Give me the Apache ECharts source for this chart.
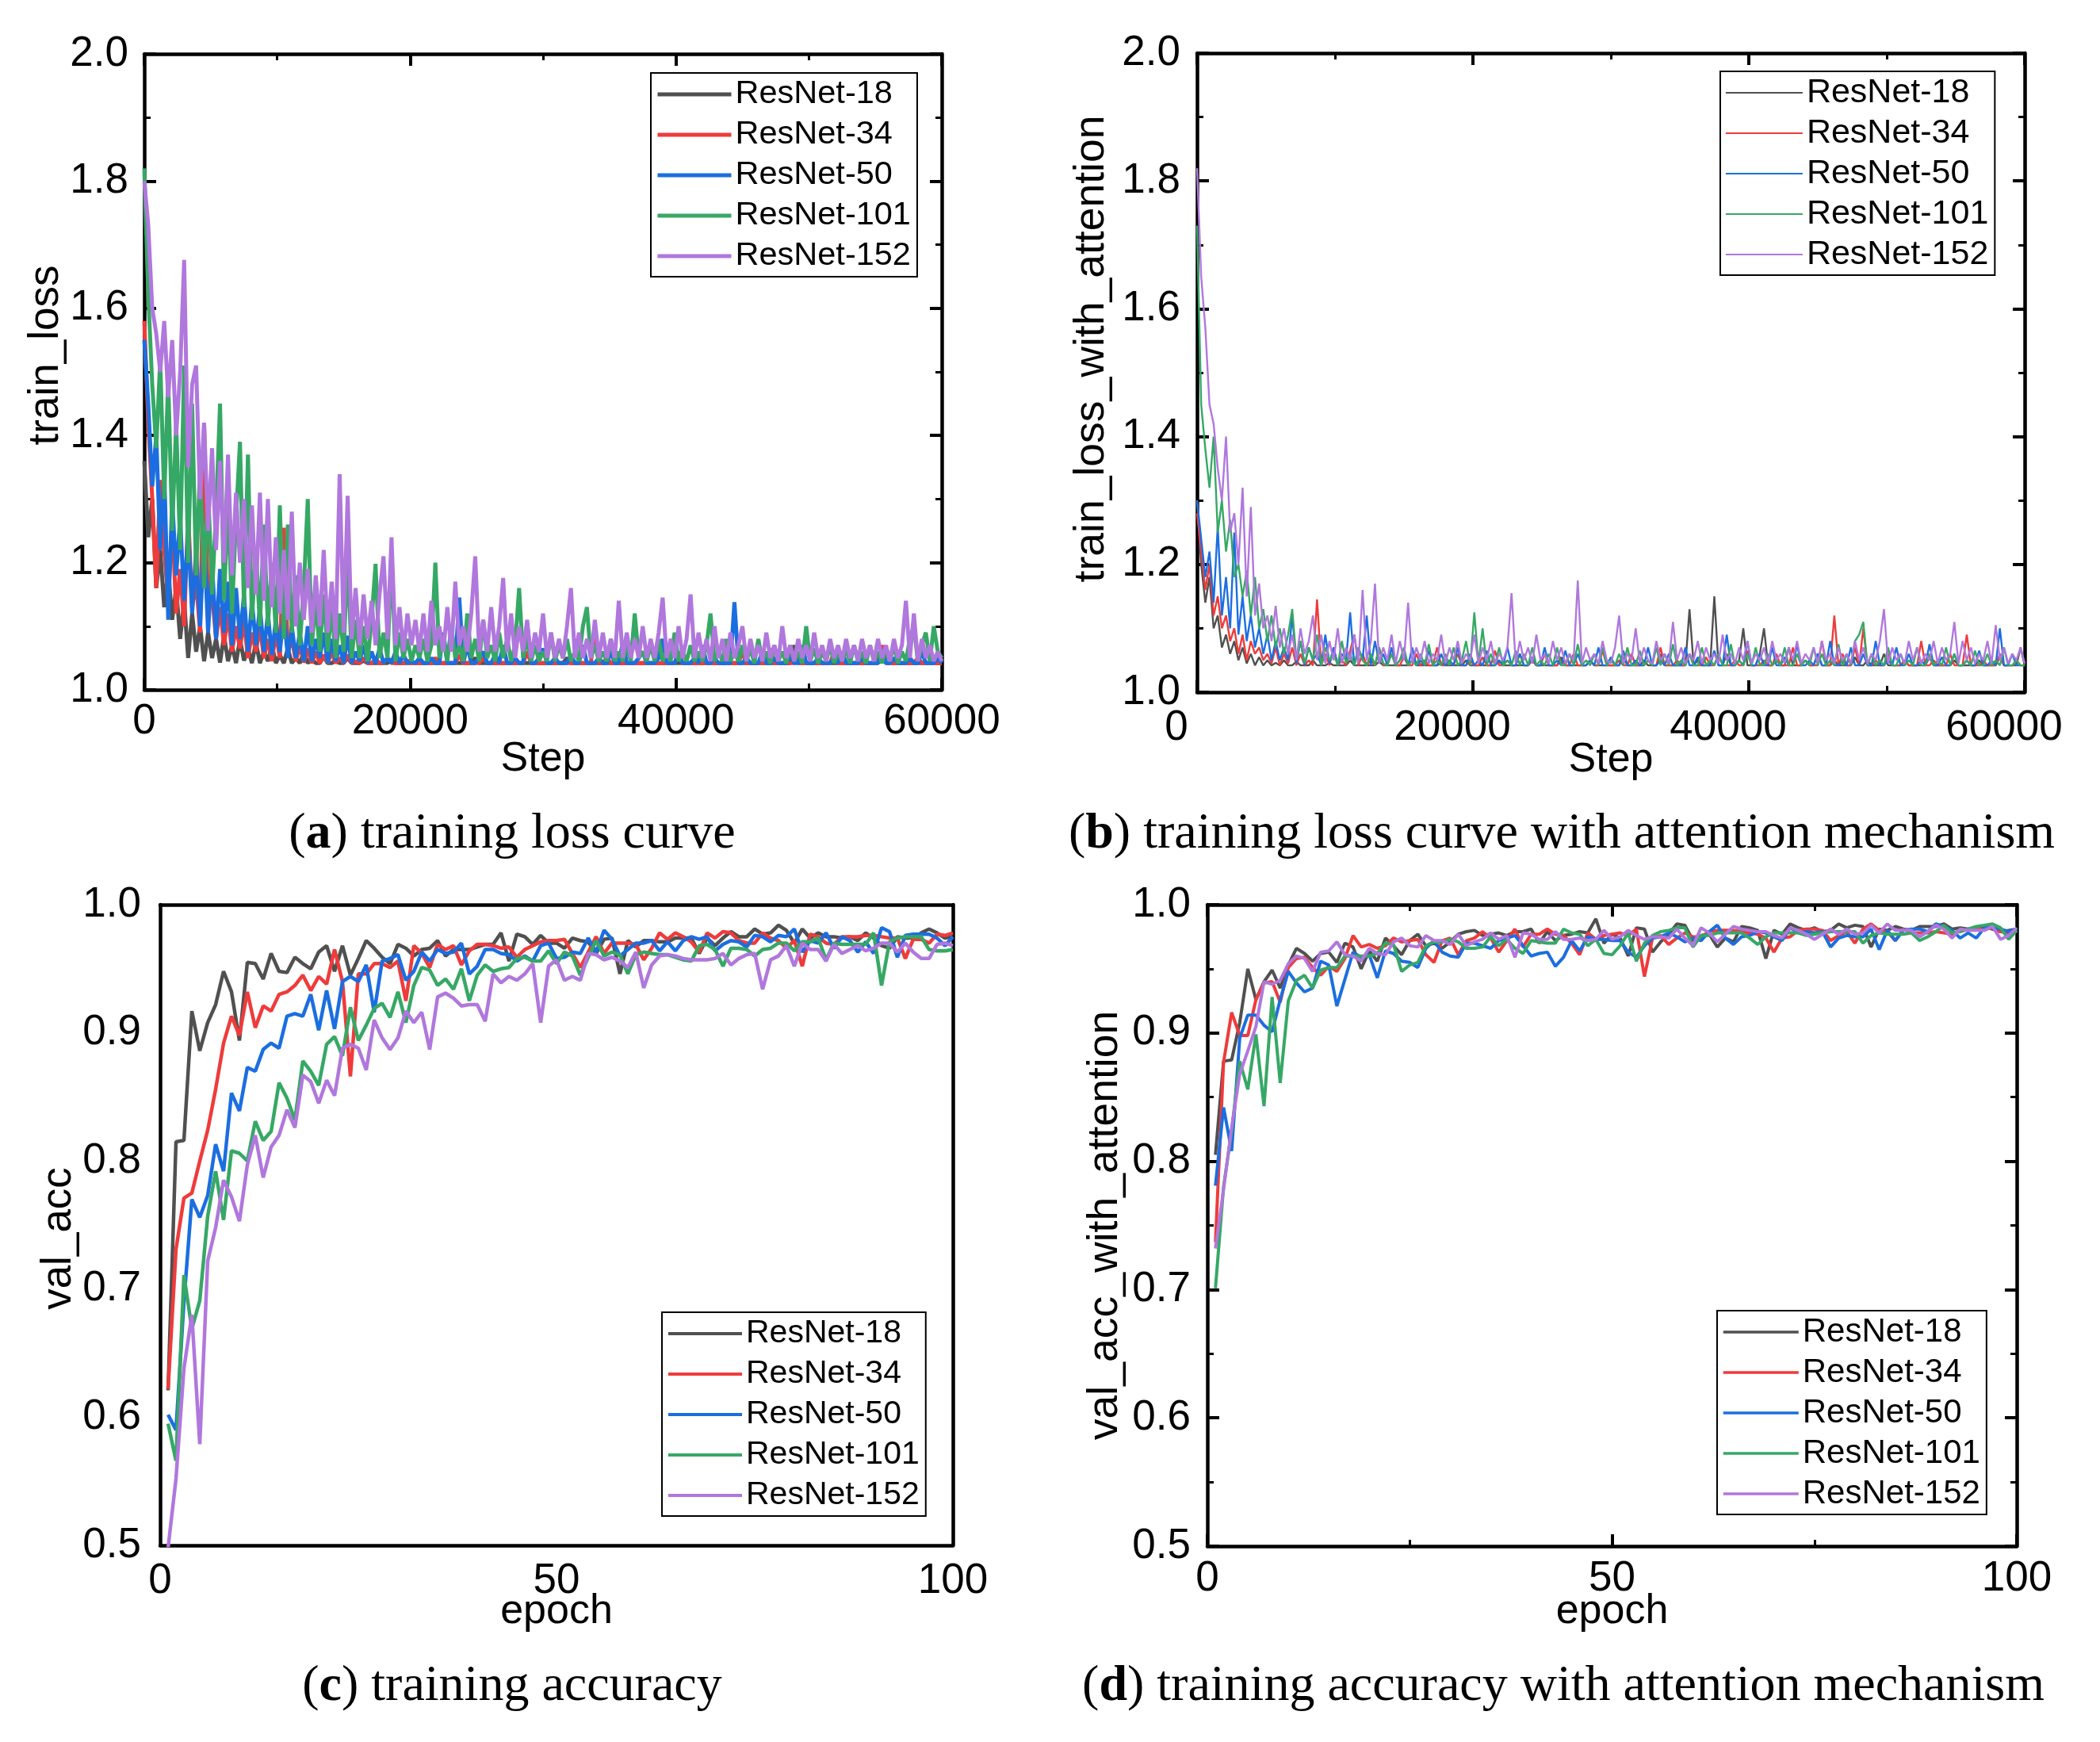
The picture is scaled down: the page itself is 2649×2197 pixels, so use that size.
<!DOCTYPE html>
<html><head><meta charset="utf-8">
<script src="https://cdn.jsdelivr.net/npm/echarts@6.0.0/dist/echarts.min.js"></script>
<style>html,body{margin:0;padding:0;background:#fff}#c{width:2649px;height:2197px}</style>
</head><body><div id="c"></div><script>
const seriesNames = ['ResNet-18','ResNet-34','ResNet-50','ResNet-101','ResNet-152'];
const seriesColors = ['#505050','#ef3b3b','#1b6ee0','#36a865','#b077dd'];
const lossStepInterval = 300;
const lossXTicks = ['0','20000','40000','60000'];
const lossYTicks = ['1.0','1.2','1.4','1.6','1.8','2.0'];
const accXTicks = ['0','50','100'];
const accYTicks = ['0.5','0.6','0.7','0.8','0.9','1.0'];
const captions = ['training loss curve','training loss curve with attention mechanism','training accuracy','training accuracy with attention mechanism'];

// (a) train_loss
const lossA18 = [1.36,1.24,1.30,1.16,1.22,1.13,1.19,1.11,1.16,1.08,
1.14,1.05,1.12,1.06,1.10,1.045,1.09,1.05,1.08,1.043,
1.085,1.045,1.07,1.042,1.08,1.046,1.065,1.042,1.075,1.042,
1.06,1.045,1.07,1.042,1.055,1.042,1.065,1.042,1.05,1.042,
1.06,1.042,1.048,1.042,1.042,1.052,1.042,1.042,1.046,1.042,
1.042,1.05,1.042,1.042,1.042,1.046,1.042,1.042,1.042,1.042,
1.042,1.042,1.048,1.042,1.042,1.042,1.042,1.042,1.042,1.042,
1.042,1.042,1.042,1.042,1.042,1.042,1.042,1.042,1.042,1.042,
1.042,1.042,1.042,1.05,1.042,1.042,1.042,1.042,1.042,1.042,
1.042,1.042,1.042,1.042,1.042,1.042,1.042,1.042,1.042,1.042,
1.042,1.042,1.042,1.042,1.042,1.042,1.05,1.042,1.042,1.042,
1.042,1.042,1.042,1.042,1.042,1.042,1.042,1.042,1.042,1.042,
1.042,1.042,1.042,1.042,1.042,1.042,1.042,1.042,1.042,1.042,
1.042,1.042,1.042,1.042,1.042,1.042,1.042,1.042,1.042,1.042,
1.042,1.042,1.042,1.042,1.042,1.042,1.042,1.042,1.042,1.042,
1.042,1.042,1.042,1.042,1.042,1.042,1.042,1.042,1.042,1.042,
1.042,1.042,1.042,1.07,1.042,1.042,1.042,1.042,1.042,1.042,
1.042,1.042,1.042,1.042,1.042,1.042,1.042,1.042,1.042,1.042,
1.042,1.042,1.042,1.042,1.042,1.055,1.042,1.042,1.042,1.042,
1.042,1.042,1.042,1.042,1.042,1.042,1.042,1.042,1.042,1.042,
1.042];
const lossA34 = [1.58,1.42,1.30,1.16,1.33,1.22,1.14,1.27,1.12,1.19,
1.10,1.28,1.13,1.17,1.09,1.42,1.12,1.15,1.08,1.13,
1.07,1.12,1.06,1.10,1.065,1.11,1.05,1.09,1.06,1.10,
1.05,1.08,1.045,1.09,1.05,1.255,1.06,1.08,1.045,1.07,
1.043,1.065,1.042,1.06,1.042,1.055,1.042,1.06,1.042,1.05,
1.042,1.055,1.042,1.045,1.042,1.05,1.042,1.042,1.048,1.042,
1.042,1.05,1.042,1.042,1.042,1.042,1.046,1.042,1.042,1.042,
1.042,1.042,1.042,1.05,1.042,1.042,1.042,1.042,1.042,1.055,
1.042,1.042,1.042,1.042,1.042,1.05,1.042,1.042,1.042,1.042,
1.042,1.042,1.042,1.042,1.042,1.042,1.06,1.042,1.042,1.042,
1.042,1.042,1.042,1.042,1.042,1.042,1.042,1.042,1.042,1.042,
1.042,1.042,1.042,1.10,1.042,1.042,1.05,1.042,1.042,1.042,
1.042,1.042,1.042,1.042,1.042,1.042,1.042,1.042,1.042,1.042,
1.042,1.042,1.042,1.042,1.06,1.042,1.042,1.042,1.042,1.042,
1.042,1.042,1.042,1.042,1.042,1.042,1.042,1.042,1.042,1.042,
1.06,1.042,1.042,1.042,1.042,1.042,1.042,1.065,1.042,1.042,
1.042,1.042,1.042,1.042,1.05,1.042,1.042,1.042,1.042,1.042,
1.042,1.042,1.042,1.06,1.042,1.042,1.042,1.042,1.042,1.042,
1.042,1.042,1.042,1.042,1.042,1.07,1.042,1.042,1.042,1.042,
1.042,1.042,1.042,1.042,1.05,1.042,1.042,1.042,1.042,1.042,
1.042];
const lossA50 = [1.55,1.45,1.32,1.40,1.22,1.35,1.11,1.30,1.18,1.27,
1.14,1.25,1.12,1.22,1.10,1.24,1.09,1.20,1.08,1.19,
1.09,1.17,1.07,1.16,1.08,1.15,1.06,1.14,1.07,1.13,
1.06,1.12,1.055,1.11,1.06,1.12,1.05,1.10,1.05,1.09,
1.045,1.10,1.045,1.08,1.05,1.09,1.042,1.08,1.045,1.07,
1.042,1.085,1.042,1.06,1.045,1.07,1.042,1.06,1.042,1.065,
1.042,1.05,1.042,1.06,1.042,1.055,1.042,1.045,1.042,1.05,
1.042,1.042,1.05,1.042,1.042,1.09,1.042,1.042,1.042,1.145,
1.042,1.07,1.042,1.042,1.05,1.06,1.042,1.042,1.055,1.042,
1.07,1.042,1.042,1.05,1.042,1.042,1.105,1.042,1.042,1.05,
1.065,1.042,1.042,1.05,1.042,1.042,1.042,1.055,1.042,1.042,
1.07,1.042,1.042,1.042,1.05,1.042,1.042,1.06,1.042,1.042,
1.075,1.042,1.042,1.042,1.05,1.06,1.042,1.042,1.042,1.05,
1.08,1.042,1.042,1.042,1.055,1.042,1.042,1.042,1.05,1.042,
1.07,1.042,1.042,1.05,1.042,1.042,1.042,1.042,1.138,1.042,
1.042,1.05,1.042,1.042,1.042,1.06,1.042,1.042,1.05,1.042,
1.042,1.042,1.055,1.042,1.042,1.07,1.042,1.042,1.042,1.05,
1.042,1.042,1.042,1.05,1.042,1.06,1.042,1.042,1.042,1.042,
1.05,1.042,1.042,1.042,1.042,1.065,1.042,1.042,1.05,1.042,
1.042,1.042,1.05,1.042,1.042,1.06,1.042,1.042,1.042,1.05,
1.042];
const lossA101 = [1.82,1.62,1.48,1.38,1.52,1.30,1.49,1.25,1.42,1.22,
1.51,1.20,1.45,1.18,1.35,1.16,1.32,1.15,1.28,1.45,
1.14,1.30,1.12,1.27,1.39,1.13,1.37,1.11,1.22,1.10,
1.26,1.10,1.20,1.09,1.29,1.08,1.26,1.09,1.18,1.07,
1.16,1.30,1.07,1.14,1.06,1.15,1.06,1.13,1.05,1.12,
1.06,1.21,1.05,1.11,1.05,1.10,1.045,1.11,1.198,1.05,
1.09,1.05,1.21,1.045,1.09,1.05,1.08,1.045,1.07,1.05,
1.08,1.045,1.07,1.20,1.05,1.08,1.045,1.10,1.05,1.07,
1.045,1.12,1.05,1.08,1.045,1.11,1.05,1.07,1.045,1.09,
1.05,1.08,1.045,1.07,1.16,1.05,1.08,1.045,1.07,1.045,
1.06,1.045,1.09,1.045,1.07,1.05,1.08,1.045,1.06,1.045,
1.10,1.13,1.05,1.07,1.045,1.06,1.045,1.08,1.045,1.06,
1.045,1.07,1.045,1.12,1.05,1.06,1.045,1.07,1.045,1.08,
1.045,1.06,1.045,1.09,1.045,1.06,1.045,1.07,1.045,1.06,
1.045,1.07,1.12,1.045,1.06,1.045,1.08,1.045,1.06,1.045,
1.07,1.045,1.065,1.042,1.08,1.045,1.06,1.042,1.07,1.045,
1.06,1.042,1.07,1.045,1.06,1.042,1.10,1.045,1.065,1.042,
1.06,1.045,1.07,1.042,1.06,1.045,1.065,1.042,1.07,1.045,
1.06,1.042,1.07,1.045,1.06,1.042,1.065,1.045,1.07,1.042,
1.06,1.045,1.08,1.10,1.045,1.07,1.09,1.045,1.10,1.06,
1.05];
const lossA152 = [1.80,1.73,1.60,1.56,1.50,1.58,1.46,1.55,1.40,1.50,
1.676,1.35,1.48,1.51,1.30,1.42,1.25,1.38,1.22,1.36,
1.20,1.37,1.18,1.31,1.20,1.30,1.16,1.29,1.15,1.31,
1.14,1.30,1.13,1.24,1.12,1.22,1.11,1.28,1.10,1.20,
1.11,1.19,1.09,1.18,1.10,1.22,1.09,1.17,1.08,1.339,
1.09,1.305,1.08,1.16,1.07,1.15,1.08,1.14,1.07,1.15,
1.21,1.08,1.24,1.07,1.13,1.06,1.12,1.07,1.11,1.06,
1.12,1.06,1.14,1.07,1.10,1.06,1.13,1.06,1.17,1.07,
1.10,1.06,1.12,1.21,1.06,1.11,1.06,1.13,1.06,1.10,
1.176,1.06,1.12,1.05,1.10,1.06,1.11,1.05,1.09,1.06,
1.12,1.05,1.09,1.05,1.08,1.05,1.10,1.16,1.05,1.09,
1.05,1.08,1.05,1.11,1.05,1.09,1.05,1.08,1.05,1.14,
1.05,1.09,1.05,1.08,1.05,1.10,1.05,1.08,1.05,1.09,
1.145,1.05,1.08,1.05,1.10,1.05,1.08,1.15,1.05,1.09,
1.05,1.08,1.045,1.10,1.05,1.08,1.045,1.09,1.05,1.07,
1.10,1.045,1.08,1.05,1.07,1.045,1.09,1.05,1.07,1.045,
1.10,1.05,1.07,1.045,1.08,1.05,1.07,1.045,1.09,1.05,
1.07,1.045,1.08,1.05,1.07,1.045,1.08,1.05,1.07,1.045,
1.08,1.05,1.07,1.045,1.08,1.05,1.07,1.045,1.08,1.05,
1.07,1.14,1.05,1.12,1.045,1.08,1.05,1.07,1.045,1.06,
1.045];

// (b) train_loss_with_attention
const lossB18 = [1.30,1.20,1.14,1.18,1.10,1.12,1.07,1.09,1.06,1.08,
1.05,1.07,1.045,1.06,1.042,1.055,1.042,1.05,1.042,1.046,
1.042,1.05,1.042,1.042,1.048,1.042,1.042,1.042,1.05,1.042,
1.042,1.042,1.046,1.042,1.042,1.042,1.042,1.05,1.042,1.042,
1.042,1.042,1.042,1.042,1.048,1.042,1.042,1.042,1.042,1.042,
1.042,1.042,1.05,1.042,1.042,1.042,1.042,1.042,1.042,1.046,
1.042,1.042,1.042,1.042,1.042,1.05,1.042,1.042,1.042,1.042,
1.042,1.042,1.042,1.048,1.042,1.042,1.042,1.042,1.042,1.042,
1.042,1.05,1.042,1.042,1.042,1.042,1.042,1.042,1.055,1.042,
1.042,1.042,1.042,1.042,1.042,1.05,1.042,1.042,1.042,1.042,
1.042,1.042,1.042,1.055,1.042,1.042,1.042,1.042,1.05,1.042,
1.042,1.042,1.06,1.042,1.042,1.042,1.042,1.042,1.042,1.13,
1.042,1.05,1.042,1.042,1.042,1.15,1.042,1.042,1.06,1.042,
1.042,1.05,1.10,1.042,1.042,1.042,1.06,1.10,1.042,1.042,
1.05,1.042,1.042,1.07,1.042,1.042,1.042,1.05,1.042,1.042,
1.06,1.042,1.042,1.042,1.05,1.042,1.042,1.042,1.042,1.055,
1.042,1.042,1.05,1.042,1.042,1.042,1.06,1.042,1.042,1.042,
1.042,1.05,1.042,1.042,1.042,1.042,1.042,1.055,1.042,1.042,
1.042,1.042,1.042,1.05,1.042,1.042,1.042,1.042,1.042,1.05,
1.042,1.042,1.042,1.042,1.055,1.042,1.042,1.042,1.042,1.07,
1.042];
const lossB34 = [1.28,1.22,1.16,1.20,1.12,1.15,1.10,1.12,1.08,1.10,
1.06,1.09,1.05,1.08,1.06,1.07,1.05,1.06,1.045,1.07,
1.042,1.06,1.045,1.07,1.042,1.06,1.042,1.05,1.042,1.145,
1.042,1.06,1.042,1.07,1.042,1.05,1.042,1.065,1.09,1.042,
1.06,1.042,1.05,1.042,1.07,1.042,1.045,1.06,1.042,1.042,
1.055,1.042,1.042,1.06,1.042,1.05,1.042,1.042,1.07,1.042,
1.042,1.05,1.042,1.06,1.042,1.042,1.05,1.042,1.042,1.055,
1.042,1.042,1.065,1.042,1.042,1.05,1.042,1.042,1.06,1.042,
1.042,1.05,1.042,1.042,1.06,1.042,1.042,1.042,1.05,1.042,
1.042,1.06,1.042,1.042,1.042,1.05,1.042,1.042,1.065,1.042,
1.042,1.042,1.05,1.042,1.042,1.06,1.042,1.042,1.042,1.05,
1.042,1.042,1.07,1.042,1.042,1.042,1.05,1.042,1.042,1.06,
1.042,1.042,1.042,1.055,1.042,1.042,1.06,1.042,1.042,1.042,
1.05,1.042,1.042,1.065,1.042,1.042,1.042,1.05,1.042,1.042,
1.06,1.042,1.042,1.042,1.07,1.042,1.042,1.05,1.042,1.042,
1.042,1.08,1.042,1.042,1.12,1.042,1.06,1.042,1.042,1.07,
1.042,1.10,1.042,1.042,1.05,1.042,1.042,1.06,1.042,1.042,
1.042,1.05,1.042,1.042,1.042,1.08,1.042,1.042,1.05,1.042,
1.042,1.042,1.06,1.042,1.042,1.042,1.09,1.042,1.042,1.042,
1.05,1.042,1.042,1.042,1.06,1.042,1.042,1.042,1.05,1.042,
1.042];
const lossB50 = [1.30,1.24,1.18,1.22,1.14,1.26,1.12,1.18,1.10,1.25,
1.09,1.15,1.08,1.12,1.07,1.10,1.06,1.09,1.05,1.08,
1.05,1.07,1.05,1.12,1.045,1.08,1.042,1.07,1.05,1.06,
1.042,1.09,1.045,1.07,1.042,1.06,1.05,1.125,1.042,1.07,
1.05,1.12,1.042,1.08,1.045,1.06,1.042,1.07,1.042,1.05,
1.06,1.042,1.07,1.042,1.05,1.042,1.065,1.042,1.042,1.06,
1.042,1.05,1.042,1.07,1.042,1.042,1.06,1.042,1.05,1.042,
1.065,1.042,1.042,1.05,1.042,1.07,1.042,1.042,1.06,1.042,
1.042,1.055,1.042,1.042,1.07,1.042,1.042,1.05,1.042,1.065,
1.042,1.042,1.06,1.042,1.042,1.05,1.042,1.07,1.042,1.042,
1.055,1.042,1.042,1.065,1.042,1.042,1.05,1.042,1.042,1.07,
1.042,1.042,1.05,1.042,1.06,1.042,1.042,1.042,1.07,1.042,
1.042,1.055,1.042,1.042,1.042,1.065,1.042,1.042,1.09,1.042,
1.042,1.05,1.042,1.08,1.042,1.042,1.06,1.042,1.042,1.07,
1.042,1.042,1.055,1.042,1.042,1.075,1.042,1.042,1.05,1.042,
1.06,1.042,1.042,1.08,1.042,1.042,1.05,1.042,1.07,1.042,
1.042,1.06,1.042,1.042,1.08,1.042,1.042,1.05,1.042,1.07,
1.042,1.042,1.06,1.042,1.042,1.05,1.042,1.075,1.042,1.042,
1.055,1.042,1.042,1.06,1.042,1.042,1.05,1.042,1.042,1.065,
1.042,1.042,1.05,1.042,1.10,1.042,1.042,1.06,1.042,1.042,
1.042];
const lossB101 = [1.73,1.45,1.38,1.32,1.40,1.25,1.30,1.22,1.27,1.18,
1.20,1.15,1.19,1.12,1.18,1.10,1.13,1.08,1.12,1.07,
1.10,1.06,1.09,1.13,1.05,1.08,1.045,1.07,1.05,1.09,
1.042,1.07,1.05,1.06,1.042,1.08,1.045,1.06,1.042,1.07,
1.05,1.042,1.06,1.042,1.07,1.045,1.042,1.06,1.042,1.05,
1.07,1.042,1.05,1.042,1.06,1.042,1.075,1.042,1.05,1.042,
1.06,1.042,1.07,1.042,1.05,1.08,1.042,1.125,1.045,1.10,
1.042,1.06,1.042,1.07,1.042,1.05,1.042,1.065,1.042,1.06,
1.042,1.07,1.042,1.05,1.042,1.06,1.042,1.07,1.042,1.042,
1.06,1.042,1.075,1.042,1.05,1.042,1.06,1.042,1.07,1.042,
1.05,1.042,1.06,1.042,1.07,1.042,1.042,1.065,1.042,1.05,
1.042,1.07,1.042,1.06,1.042,1.075,1.042,1.05,1.042,1.06,
1.042,1.042,1.07,1.042,1.05,1.042,1.06,1.042,1.042,1.075,
1.042,1.05,1.042,1.06,1.042,1.07,1.042,1.042,1.06,1.042,
1.05,1.042,1.07,1.042,1.042,1.06,1.042,1.05,1.042,1.07,
1.042,1.06,1.042,1.05,1.042,1.075,1.042,1.06,1.042,1.08,
1.09,1.11,1.042,1.06,1.042,1.05,1.042,1.07,1.042,1.042,
1.06,1.042,1.05,1.042,1.07,1.042,1.042,1.06,1.042,1.05,
1.042,1.07,1.042,1.06,1.042,1.042,1.05,1.042,1.065,1.042,
1.042,1.06,1.042,1.05,1.042,1.07,1.042,1.042,1.05,1.042,
1.042];
const lossB152 = [1.82,1.65,1.57,1.45,1.42,1.35,1.30,1.40,1.25,1.28,
1.20,1.32,1.15,1.29,1.12,1.17,1.10,1.12,1.08,1.135,
1.07,1.10,1.06,1.09,1.05,1.10,1.06,1.08,1.12,1.05,
1.09,1.045,1.08,1.05,1.10,1.045,1.07,1.05,1.09,1.045,
1.16,1.05,1.08,1.17,1.045,1.07,1.05,1.09,1.045,1.08,
1.05,1.14,1.045,1.07,1.05,1.08,1.045,1.06,1.05,1.09,
1.045,1.07,1.05,1.08,1.045,1.06,1.05,1.09,1.045,1.07,
1.05,1.08,1.045,1.06,1.05,1.07,1.155,1.045,1.08,1.05,
1.07,1.045,1.09,1.05,1.06,1.045,1.08,1.05,1.07,1.045,
1.06,1.05,1.175,1.045,1.07,1.05,1.06,1.045,1.08,1.05,
1.045,1.07,1.12,1.045,1.06,1.05,1.10,1.045,1.07,1.05,
1.045,1.08,1.05,1.06,1.045,1.11,1.05,1.07,1.045,1.06,
1.05,1.08,1.045,1.07,1.05,1.06,1.045,1.09,1.05,1.06,
1.045,1.07,1.05,1.08,1.045,1.06,1.05,1.07,1.045,1.08,
1.05,1.06,1.045,1.07,1.05,1.08,1.045,1.06,1.05,1.07,
1.045,1.08,1.05,1.06,1.045,1.07,1.05,1.06,1.045,1.08,
1.05,1.07,1.045,1.06,1.05,1.08,1.13,1.045,1.07,1.05,
1.06,1.045,1.08,1.05,1.07,1.045,1.06,1.05,1.08,1.045,
1.07,1.05,1.06,1.11,1.045,1.08,1.05,1.07,1.045,1.06,
1.05,1.08,1.045,1.105,1.05,1.07,1.045,1.06,1.05,1.07,
1.045];

// (c) val_acc, epochs 1..100
const accC18 = [0.621,0.815,0.816,0.917,0.886,0.908,0.922,0.948,0.932,0.894,
0.955,0.954,0.942,0.962,0.948,0.947,0.959,0.954,0.950,0.963,
0.968,0.948,0.968,0.945,0.958,0.972,0.966,0.959,0.954,0.969,
0.966,0.960,0.965,0.966,0.972,0.960,0.965,0.965,0.965,0.967,
0.969,0.969,0.978,0.956,0.977,0.975,0.969,0.976,0.970,0.970,
0.966,0.974,0.972,0.971,0.962,0.973,0.974,0.946,0.972,0.967,
0.972,0.972,0.971,0.971,0.974,0.974,0.974,0.962,0.974,0.968,
0.974,0.979,0.975,0.975,0.981,0.977,0.978,0.984,0.980,0.970,
0.981,0.974,0.978,0.975,0.975,0.974,0.975,0.972,0.978,0.974,
0.968,0.966,0.975,0.974,0.974,0.978,0.981,0.978,0.974,0.975];
const accC34 = [0.622,0.731,0.771,0.775,0.800,0.824,0.856,0.892,0.913,0.898,
0.932,0.904,0.921,0.917,0.930,0.932,0.937,0.945,0.933,0.944,
0.938,0.965,0.940,0.866,0.946,0.946,0.954,0.954,0.951,0.956,
0.925,0.968,0.962,0.951,0.969,0.965,0.968,0.953,0.964,0.969,
0.969,0.968,0.966,0.967,0.959,0.965,0.968,0.971,0.972,0.972,
0.973,0.962,0.951,0.963,0.975,0.962,0.970,0.970,0.970,0.969,
0.957,0.966,0.978,0.973,0.978,0.975,0.971,0.963,0.978,0.974,
0.979,0.978,0.972,0.970,0.970,0.978,0.974,0.972,0.966,0.972,
0.952,0.977,0.975,0.970,0.969,0.975,0.975,0.975,0.976,0.976,
0.975,0.974,0.974,0.958,0.973,0.973,0.970,0.977,0.976,0.978];
const accC50 = [0.602,0.590,0.690,0.770,0.756,0.773,0.813,0.792,0.853,0.839,
0.873,0.870,0.887,0.892,0.888,0.913,0.915,0.913,0.930,0.902,
0.933,0.903,0.940,0.944,0.940,0.953,0.916,0.956,0.958,0.961,
0.941,0.948,0.963,0.956,0.965,0.962,0.963,0.970,0.946,0.952,
0.965,0.965,0.962,0.961,0.956,0.960,0.956,0.968,0.970,0.958,
0.959,0.963,0.962,0.974,0.963,0.980,0.973,0.960,0.965,0.970,
0.970,0.972,0.964,0.971,0.964,0.972,0.975,0.973,0.975,0.964,
0.969,0.972,0.971,0.967,0.976,0.975,0.971,0.976,0.975,0.981,
0.963,0.972,0.970,0.978,0.966,0.975,0.972,0.963,0.971,0.962,
0.982,0.979,0.959,0.976,0.977,0.977,0.977,0.974,0.968,0.975];
const accC101 = [0.595,0.566,0.711,0.669,0.691,0.757,0.792,0.754,0.808,0.806,
0.800,0.831,0.816,0.823,0.861,0.849,0.832,0.878,0.870,0.859,
0.891,0.897,0.882,0.920,0.894,0.906,0.919,0.923,0.912,0.932,
0.908,0.937,0.951,0.949,0.937,0.942,0.934,0.950,0.925,0.945,
0.953,0.948,0.950,0.951,0.958,0.959,0.956,0.956,0.964,0.954,
0.963,0.960,0.945,0.959,0.972,0.960,0.963,0.961,0.946,0.961,
0.963,0.962,0.961,0.961,0.959,0.957,0.956,0.968,0.969,0.965,
0.952,0.966,0.966,0.965,0.960,0.965,0.966,0.970,0.970,0.964,
0.971,0.971,0.974,0.957,0.970,0.969,0.969,0.969,0.969,0.978,
0.937,0.971,0.974,0.975,0.975,0.975,0.965,0.964,0.964,0.965];
const accC152 = [0.498,0.552,0.638,0.680,0.579,0.722,0.748,0.785,0.772,0.753,
0.797,0.820,0.787,0.811,0.820,0.840,0.826,0.867,0.862,0.845,
0.863,0.851,0.888,0.891,0.888,0.871,0.910,0.896,0.887,0.896,
0.917,0.908,0.916,0.887,0.928,0.931,0.927,0.921,0.922,0.922,
0.909,0.946,0.939,0.944,0.941,0.946,0.954,0.908,0.952,0.957,
0.941,0.944,0.941,0.962,0.961,0.957,0.959,0.956,0.951,0.963,
0.935,0.953,0.960,0.961,0.960,0.958,0.957,0.957,0.957,0.958,
0.962,0.953,0.958,0.961,0.962,0.934,0.957,0.960,0.968,0.952,
0.970,0.965,0.965,0.956,0.969,0.962,0.965,0.968,0.964,0.966,
0.970,0.970,0.963,0.970,0.963,0.958,0.958,0.969,0.970,0.968];

// (d) val_acc_with_attention
const accD18 = [0.805,0.878,0.879,0.908,0.950,0.926,0.940,0.949,0.935,0.953,
0.966,0.962,0.956,0.962,0.963,0.955,0.970,0.967,0.950,0.964,
0.956,0.974,0.968,0.961,0.972,0.977,0.968,0.970,0.966,0.971,
0.977,0.979,0.980,0.976,0.977,0.978,0.976,0.979,0.979,0.981,
0.970,0.979,0.972,0.976,0.977,0.979,0.978,0.989,0.970,0.977,
0.974,0.960,0.982,0.981,0.963,0.971,0.977,0.985,0.984,0.972,
0.976,0.977,0.967,0.974,0.971,0.983,0.982,0.980,0.958,0.980,
0.977,0.985,0.982,0.980,0.982,0.979,0.980,0.985,0.982,0.984,
0.983,0.967,0.981,0.980,0.983,0.981,0.980,0.983,0.983,0.983,
0.985,0.981,0.982,0.981,0.981,0.983,0.981,0.979,0.980,0.981];
const accD34 = [0.737,0.877,0.916,0.898,0.898,0.926,0.939,0.940,0.924,0.951,
0.958,0.959,0.951,0.945,0.952,0.948,0.958,0.976,0.967,0.969,
0.966,0.968,0.974,0.971,0.972,0.973,0.961,0.955,0.972,0.974,
0.961,0.972,0.974,0.979,0.974,0.963,0.972,0.981,0.967,0.977,
0.977,0.981,0.977,0.976,0.970,0.961,0.978,0.973,0.976,0.977,
0.978,0.976,0.981,0.944,0.974,0.976,0.969,0.974,0.978,0.975,
0.975,0.979,0.980,0.980,0.980,0.979,0.978,0.977,0.974,0.963,
0.974,0.975,0.980,0.981,0.981,0.980,0.972,0.976,0.979,0.970,
0.981,0.985,0.980,0.979,0.972,0.981,0.978,0.978,0.978,0.979,
0.978,0.977,0.980,0.980,0.981,0.981,0.982,0.979,0.978,0.980];
const accD50 = [0.781,0.842,0.808,0.896,0.914,0.914,0.906,0.901,0.926,0.948,
0.939,0.932,0.935,0.956,0.953,0.921,0.942,0.963,0.959,0.961,
0.943,0.964,0.962,0.956,0.955,0.951,0.966,0.972,0.963,0.960,
0.959,0.970,0.970,0.968,0.966,0.972,0.974,0.976,0.968,0.960,
0.962,0.963,0.952,0.959,0.972,0.964,0.975,0.973,0.973,0.972,
0.972,0.963,0.959,0.968,0.974,0.975,0.978,0.975,0.971,0.974,
0.972,0.979,0.984,0.974,0.969,0.975,0.976,0.979,0.978,0.975,
0.972,0.982,0.978,0.979,0.978,0.979,0.967,0.974,0.976,0.975,
0.975,0.981,0.965,0.980,0.972,0.980,0.981,0.981,0.979,0.985,
0.983,0.980,0.974,0.978,0.974,0.982,0.983,0.981,0.979,0.981];
const accD101 = [0.701,0.780,0.824,0.878,0.856,0.899,0.843,0.928,0.861,0.925,
0.941,0.945,0.935,0.949,0.951,0.951,0.960,0.960,0.960,0.960,
0.962,0.970,0.969,0.948,0.953,0.955,0.968,0.971,0.971,0.973,
0.971,0.966,0.966,0.967,0.975,0.968,0.973,0.966,0.962,0.972,
0.971,0.970,0.970,0.981,0.978,0.977,0.968,0.973,0.962,0.961,
0.968,0.978,0.956,0.970,0.976,0.979,0.980,0.982,0.982,0.967,
0.976,0.976,0.978,0.978,0.978,0.978,0.974,0.969,0.975,0.978,
0.978,0.978,0.978,0.976,0.977,0.978,0.979,0.979,0.979,0.979,
0.970,0.976,0.978,0.977,0.977,0.977,0.978,0.972,0.975,0.979,
0.984,0.978,0.979,0.981,0.983,0.984,0.985,0.982,0.973,0.980];
const accD152 = [0.732,0.778,0.826,0.868,0.886,0.905,0.940,0.938,0.941,0.954,
0.960,0.958,0.948,0.963,0.964,0.971,0.961,0.960,0.956,0.966,
0.962,0.961,0.971,0.974,0.968,0.967,0.976,0.972,0.972,0.969,
0.977,0.968,0.971,0.973,0.978,0.973,0.976,0.959,0.978,0.977,
0.973,0.973,0.979,0.973,0.973,0.974,0.972,0.973,0.980,0.973,
0.975,0.980,0.976,0.973,0.975,0.975,0.974,0.981,0.974,0.968,
0.982,0.978,0.971,0.977,0.983,0.981,0.980,0.979,0.979,0.976,
0.974,0.982,0.980,0.977,0.973,0.977,0.981,0.977,0.981,0.977,
0.978,0.984,0.978,0.985,0.980,0.980,0.980,0.975,0.979,0.984,
0.981,0.974,0.981,0.980,0.980,0.980,0.983,0.973,0.976,0.982];

const lossA = [lossA18, lossA34, lossA50, lossA101, lossA152];
const lossB = [lossB18, lossB34, lossB50, lossB101, lossB152];
const accC = [accC18, accC34, accC50, accC101, accC152];
const accD = [accD18, accD34, accD50, accD101, accD152];

const FONT = 'Liberation Sans';
const chart = echarts.init(document.getElementById('c'), null, {renderer: 'canvas'});

const panels = [
  {grid:{left:182, top:68, width:1006, height:802}, xMin:0, xMax:60000, xInt:20000, yMin:1, yMax:2, yInt:0.2,
   ticks:true, xName:'Step', xNameGap:62, yName:'train_loss', yNameSize:53, yNameGap:90, yNamePad:[0,0,0,42],
   xLabelMargin:14, xLabelPad:0, yLabelMargin:20, lineWidth:5, legendLine:5,
   legend:{left:821, top:92, itemWidth:93, fontSize:41.5}},
  {grid:{left:1510, top:67, width:1044, height:806}, xMin:0, xMax:60000, xInt:20000, yMin:1, yMax:2, yInt:0.2,
   ticks:true, xName:'Step', xNameGap:60, yName:'train_loss_with_attention', yNameSize:53.5, yNameGap:106, yNamePad:[0,0,0,60],
   xLabelMargin:19, xLabelPad:[0,52,0,0], yLabelMargin:21, lineWidth:2.4, legendLine:1.8,
   legend:{left:2170, top:90, itemWidth:97, fontSize:43}},
  {grid:{left:202, top:1141, width:1000, height:808}, xMin:0, xMax:100, xInt:50, yMin:0.5, yMax:1, yInt:0.1,
   ticks:false, xName:'epoch', xNameGap:58, yName:'val_acc', yNameSize:53, yNameGap:97, yNamePad:[0,34,0,0],
   xLabelMargin:19, xLabelPad:0, yLabelMargin:24, lineWidth:4.5, legendLine:4,
   legend:{left:835, top:1655, itemWidth:93, fontSize:41}},
  {grid:{left:1523, top:1141, width:1021, height:809}, xMin:0, xMax:100, xInt:50, yMin:0.5, yMax:1, yInt:0.1,
   ticks:true, xName:'epoch', xNameGap:57, yName:'val_acc_with_attention', yNameSize:53.5, yNameGap:102, yNamePad:0,
   xLabelMargin:15, xLabelPad:0, yLabelMargin:21, lineWidth:4, legendLine:3.5,
   legend:{left:2166, top:1653, itemWidth:95, fontSize:42}}
];

const lineStyleAxis = {color:'#000', width:4.5};
function tickCfg(show){ return {show:show, inside:true, length:15, lineStyle:{color:'#000', width:4}}; }
function minorCfg(show){ return {show:show, splitNumber:2, length:8, lineStyle:{color:'#000', width:3}}; }

const grids = [], xAxes = [], yAxes = [], series = [], legends = [], graphics = [];
panels.forEach((p, i) => {
  grids.push(Object.assign({containLabel:false}, p.grid));
  const xFmt = p.xMax > 1000 ? (v => lossXTicks[Math.round(v / p.xInt)]) : (v => accXTicks[Math.round(v / p.xInt)]);
  const yTicks = p.yMin === 1 ? lossYTicks : accYTicks;
  const yFmt = v => yTicks[Math.round((v - p.yMin) / p.yInt)];
  xAxes.push({type:'value', gridIndex:i, position:'bottom', min:p.xMin, max:p.xMax, interval:p.xInt,
    axisLine:{show:true, onZero:false, lineStyle:lineStyleAxis}, axisTick:tickCfg(p.ticks), minorTick:minorCfg(p.ticks),
    splitLine:{show:false}, minorSplitLine:{show:false},
    axisLabel:{show:true, margin:p.xLabelMargin, fontSize:53, fontFamily:FONT, color:'#000', formatter:xFmt, padding:p.xLabelPad},
    name:p.xName, nameLocation:'middle', nameGap:p.xNameGap, nameMoveOverlap:false,
    nameTextStyle:{fontSize:52, fontFamily:FONT, color:'#000'}});
  yAxes.push({type:'value', gridIndex:i, position:'left', min:p.yMin, max:p.yMax, interval:p.yInt,
    axisLine:{show:true, onZero:false, lineStyle:lineStyleAxis}, axisTick:tickCfg(p.ticks), minorTick:minorCfg(p.ticks),
    splitLine:{show:false}, minorSplitLine:{show:false},
    axisLabel:{show:true, margin:p.yLabelMargin, fontSize:53, fontFamily:FONT, color:'#000', formatter:yFmt},
    name:p.yName, nameLocation:'middle', nameRotate:90, nameGap:p.yNameGap,
    nameTextStyle:{fontSize:p.yNameSize, fontFamily:FONT, color:'#000', padding:p.yNamePad}});
});
panels.forEach((p, i) => {
  xAxes.push({type:'value', gridIndex:i, position:'top', min:p.xMin, max:p.xMax, interval:p.xInt,
    axisLine:{show:true, onZero:false, lineStyle:lineStyleAxis}, axisTick:tickCfg(p.ticks), minorTick:minorCfg(p.ticks),
    splitLine:{show:false}, axisLabel:{show:false}});
  yAxes.push({type:'value', gridIndex:i, position:'right', min:p.yMin, max:p.yMax, interval:p.yInt,
    axisLine:{show:true, onZero:false, lineStyle:lineStyleAxis}, axisTick:tickCfg(p.ticks), minorTick:minorCfg(p.ticks),
    splitLine:{show:false}, axisLabel:{show:false}});
});

const panelData = [lossA, lossB, accC, accD];
panelData.forEach((group, i) => {
  const p = panels[i];
  group.forEach((vals, k) => {
    const data = vals.map((v, j) => i < 2 ? [j * lossStepInterval, v] : [j + 1, v]);
    series.push({type:'line', name:seriesNames[k], xAxisIndex:i, yAxisIndex:i, data:data,
      symbol:'none', showSymbol:false, smooth:false, clip:true,
      lineStyle:{color:seriesColors[k], width:p.lineWidth}, itemStyle:{color:seriesColors[k]},
      z:2+k});
  });
  legends.push({show:true, orient:'vertical', left:p.legend.left, top:p.legend.top,
    data:seriesNames.map((n, k) => ({name:n, lineStyle:{color:seriesColors[k], width:p.legendLine}})),
    itemWidth:p.legend.itemWidth, itemHeight:14, itemGap:7, padding:[5,8,4,6],
    itemStyle:{opacity:0, borderWidth:0},
    borderColor:'#000', borderWidth:2, backgroundColor:'#fff', selectedMode:false,
    textStyle:{fontSize:p.legend.fontSize, fontFamily:FONT, color:'#000', lineHeight:44}});
});

const capPos = [[646,1052],[1970,1052],[646,2127],[1972,2127]];
const capLetters = ['a','b','c','d'];
capPos.forEach((c, i) => {
  graphics.push({type:'text', x:c[0], y:c[1], z:100,
    style:{text:'({b|' + capLetters[i] + '}) ' + captions[i], fontSize:64, fontFamily:'Liberation Serif', fill:'#000',
      textAlign:'center', textVerticalAlign:'middle',
      rich:{b:{fontWeight:'bold', fontSize:64, fontFamily:'Liberation Serif', fill:'#000'}}}});
});

chart.setOption({
  animation:false, backgroundColor:'#fff',
  textStyle:{fontFamily:FONT},
  grid:grids, xAxis:xAxes, yAxis:yAxes, series:series, legend:legends, graphic:graphics
});
</script></body></html>
